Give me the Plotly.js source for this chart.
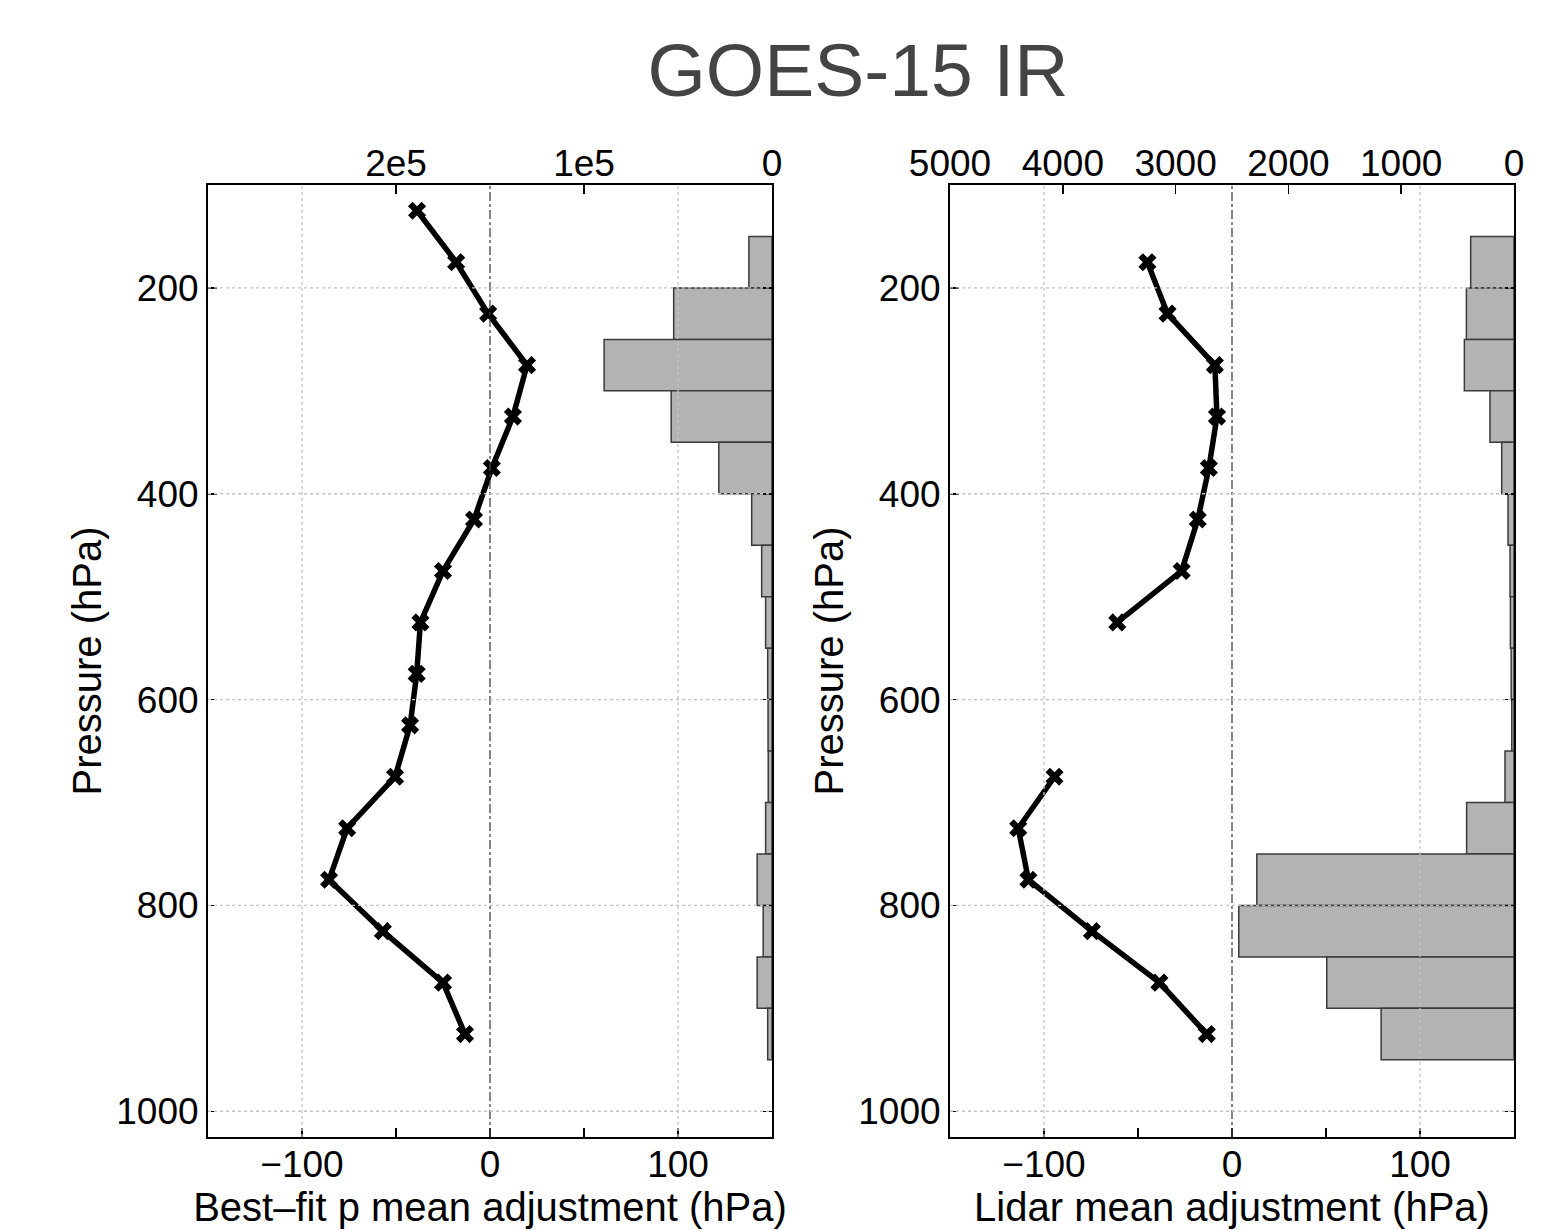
<!DOCTYPE html>
<html>
<head>
<meta charset="utf-8">
<script src="https://cdn.plot.ly/plotly-3.0.1.min.js"></script>
<style>html,body{margin:0;padding:0;background:#fff;}#chart{width:1564px;height:1230px;}</style>
</head>
<body>
<div id="chart"></div>
<script>
// ---- data ----
const binCenters = [175, 225, 275, 325, 375, 425, 475, 525, 575, 625, 675, 725, 775, 825, 875, 925];
const bestfitCounts = [12300, 52300, 89300, 53600, 28300, 10800, 5500, 3400, 2300, 2100, 2000, 3400, 7900, 4700, 7900, 2300];
const lidarCounts = [384, 422, 440, 213, 109, 53, 35, 32, 25, 20, 80, 420, 2280, 2440, 1660, 1178];

const bestfitPressure = [125, 175, 225, 275, 325, 375, 425, 475, 525, 575, 625, 675, 725, 775, 825, 875, 925];
const bestfitAdjust = [-38.8, -18, -1, 19.7, 12.2, 1, -8.5, -25, -37, -39, -42.5, -50.5, -76, -85.6, -57, -25, -13.3];

const lidarPressure = [175, 225, 275, 325, 375, 425, 475, 525, 575, 625, 675, 725, 775, 825, 875, 925];
const lidarAdjust = [-45, -34.3, -9.1, -8, -12.3, -18.2, -26.8, -61, null, null, -94.4, -113.7, -108.3, -74.5, -38.6, -13.4];

const pressureTicks = [200, 400, 600, 800, 1000];
const adjTicks = [-100, 0, 100];
const adjTickText = ['\u2212100', '0', '100'];
const bestfitCountTicks = [200000, 100000, 0];
const bestfitCountText = ['2e5', '1e5', '0'];
const lidarCountTicks = [5000, 4000, 3000, 2000, 1000, 0];
const lidarCountText = ['5000', '4000', '3000', '2000', '1000', '0'];

// ---- styles ----
const FONT = 'Liberation Sans, Arial, Helvetica, sans-serif';
const tickFont = {family: FONT, size: 37, color: '#000'};
const titleFont = {family: FONT, size: 40, color: '#000'};
const yDom = [93/1230, 1045/1230];
const leftDom = [208/1564, 772/1564];
const rightDom = [950/1564, 1514/1564];

function barTrace(counts, xa, ya) {
  return {type: 'bar', orientation: 'h', y: binCenters, x: counts, width: 50,
    xaxis: xa, yaxis: ya,
    marker: {color: '#b3b3b3', line: {color: '#3a3a3a', width: 1.5}},
    hoverinfo: 'skip', showlegend: false};
}
function lineTrace(p, v, xa, ya) {
  return {type: 'scatter', mode: 'lines+markers', x: v, y: p, xaxis: xa, yaxis: ya,
    connectgaps: false,
    line: {color: '#000', width: 5.5},
    marker: {symbol: 'x', size: 16, color: '#000'},
    showlegend: false};
}

const data = [
  barTrace(bestfitCounts, 'x2', 'y'),
  lineTrace(bestfitPressure, bestfitAdjust, 'x', 'y'),
  barTrace(lidarCounts, 'x4', 'y2'),
  lineTrace(lidarPressure, lidarAdjust, 'x3', 'y2')
];

function bottomAxis(dom, anchor, title) {
  return {domain: dom, anchor: anchor, side: 'bottom', range: [-150, 150],
    tickmode: 'array', tickvals: adjTicks, ticktext: adjTickText,
    ticks: 'inside', ticklen: 9, tickwidth: 1.5, tickcolor: '#000',
    ticklabelstandoff: -6,
    minor: {dtick: 50, tick0: 0, ticks: 'inside', ticklen: 9, tickwidth: 1.5, tickcolor: '#000', showgrid: false},
    showline: true, linecolor: '#000', linewidth: 2, showgrid: false, zeroline: false,
    tickfont: tickFont, title: {text: title, font: titleFont, standoff: 0}};
}
function topAxis(over, anchor, range, vals, txt) {
  return {overlaying: over, anchor: anchor, side: 'top', range: range,
    tickmode: 'array', tickvals: vals, ticktext: txt,
    ticks: 'inside', ticklen: 9, tickwidth: 1.5, tickcolor: '#000',
    ticklabelstandoff: -8,
    showline: true, linecolor: '#000', linewidth: 2, showgrid: false, zeroline: false,
    tickfont: tickFont};
}
function yAxis(anchor) {
  return {domain: yDom, anchor: anchor, range: [1025, 100],
    tickmode: 'array', tickvals: pressureTicks,
    ticks: 'inside', ticklen: 9, tickwidth: 1.5, tickcolor: '#000',
    showline: true, mirror: 'ticks', linecolor: '#000', linewidth: 2,
    showgrid: false, zeroline: false, tickfont: tickFont,
    title: {text: 'Pressure (hPa)', font: titleFont, standoff: 2}};
}

const shapes = [];
function addGrid(xa, ya) {
  adjTicks.forEach(v => {
    if (v === 0) {
      shapes.push({type: 'line', layer: 'above', xref: xa, yref: ya + ' domain', x0: v, x1: v, y0: 0, y1: 1,
        line: {color: '#444', width: 1.3, dash: 'dashdot'}});
    } else {
      shapes.push({type: 'line', layer: 'above', xref: xa, yref: ya + ' domain', x0: v, x1: v, y0: 0, y1: 1,
        line: {color: '#c4c4c4', width: 1.3, dash: 'dot'}});
    }
  });
  pressureTicks.forEach(v => {
    shapes.push({type: 'line', layer: 'above', xref: xa + ' domain', yref: ya, x0: 0, x1: 1, y0: v, y1: v,
      line: {color: '#c4c4c4', width: 1.3, dash: 'dot'}});
  });
}
addGrid('x', 'y');
addGrid('x3', 'y2');

const layout = {
  width: 1564, height: 1230,
  margin: {l: 0, r: 0, t: 0, b: 0},
  paper_bgcolor: '#fff', plot_bgcolor: '#fff',
  showlegend: false,
  bargap: 0,
  title: {text: 'GOES-15 IR', x: 858/1564, xanchor: 'center', y: 1 - 70/1230, yanchor: 'middle',
    font: {family: FONT, size: 75, color: '#444'}},
  xaxis: bottomAxis(leftDom, 'y', 'Best\u2013fit p mean adjustment (hPa)'),
  xaxis2: topAxis('x', 'y', [300000, 0], bestfitCountTicks, bestfitCountText),
  xaxis3: bottomAxis(rightDom, 'y2', 'Lidar mean adjustment (hPa)'),
  xaxis4: topAxis('x3', 'y2', [5000, 0], lidarCountTicks, lidarCountText),
  yaxis: yAxis('x'),
  yaxis2: yAxis('x3'),
  shapes: shapes
};

Plotly.newPlot('chart', data, layout, {displayModeBar: false, staticPlot: true});
</script>
</body>
</html>
